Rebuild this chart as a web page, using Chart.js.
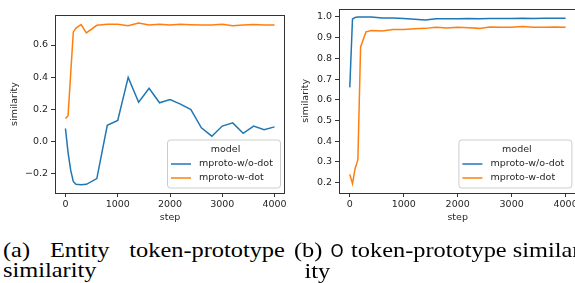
<!DOCTYPE html>
<html>
<head>
<meta charset="utf-8">
<script src="https://cdn.jsdelivr.net/npm/chart.js@4/dist/chart.umd.min.js"></script>
<style>
  html, body { margin: 0; padding: 0; background: #fff; overflow: hidden; width: 575px; height: 283px; }
  canvas { position: absolute; top: 0; }
  #chartA { left: 0; }
  #chartB { left: 285px; }
  .cap { position: absolute; font-family: "Liberation Serif", "Times New Roman", serif; font-size: 21px; line-height: 20px;
         color: #000; transform: scaleX(1.16); transform-origin: 0 0; }
  #capA { left: 3px; top: 240px; width: 243px; text-align: justify; text-align-last: left; }
  #capB { left: 294px; top: 240px; white-space: nowrap; }
  .tt { font-family: "DejaVu Sans", sans-serif; font-size: 18px; display: inline-block; transform: scaleX(0.8); }
</style>
</head>
<body>
<canvas id="chartA" width="290" height="230"></canvas>
<canvas id="chartB" width="300" height="230"></canvas>
<div class="cap" id="capA">(a) Entity token-prototype similarity</div>
<div class="cap" id="capB">(b) <span class="tt">O</span> token-prototype similar-<br><span style="padding-left:9px">ity</span></div>
<script>
// training steps (x) shared by all lines
const steps = [0, 50, 100, 150, 200, 300, 400, 600, 800, 1000, 1200, 1400, 1600, 1800, 2000,
               2200, 2400, 2600, 2800, 3000, 3200, 3400, 3600, 3800, 4000];
const seriesNames = ['mproto-w/o-dot', 'mproto-w-dot'];

// (a) entity token-prototype similarity
const entityWoDot = [0.08, -0.07, -0.18, -0.25, -0.267, -0.27, -0.268, -0.232, 0.10, 0.13, 0.398,
                     0.243, 0.33, 0.24, 0.26, 0.232, 0.198, 0.084, 0.032, 0.095, 0.115, 0.05, 0.095, 0.072, 0.09];
const entityWDot = [0.142, 0.16, 0.42, 0.68, 0.705, 0.727, 0.675, 0.723, 0.73, 0.73, 0.72,
                    0.737, 0.725, 0.73, 0.724, 0.73, 0.727, 0.725, 0.725, 0.73, 0.72, 0.725, 0.728, 0.725, 0.725];

// (b) O token-prototype similarity
const oWoDot = [0.66, 0.99, 0.998, 1.0, 1.0, 1.0, 1.0, 0.995, 0.995, 0.993, 0.989,
                0.986, 0.991, 0.992, 0.992, 0.993, 0.992, 0.993, 0.993, 0.993, 0.994, 0.993, 0.994, 0.994, 0.994];
const oWDot = [0.24, 0.195, 0.27, 0.31, 0.855, 0.928, 0.935, 0.932, 0.94, 0.94, 0.943,
               0.945, 0.95, 0.947, 0.95, 0.948, 0.945, 0.952, 0.951, 0.95, 0.954, 0.951, 0.95, 0.952, 0.951];

const xTicks = [0, 1000, 2000, 3000, 4000];
const yTicksA = [-0.2, 0.0, 0.2, 0.4, 0.6];
const yTicksB = [0.2, 0.3, 0.4, 0.5, 0.6, 0.7, 0.8, 0.9, 1.0];

const colors = ['#1f77b4', '#ff7f0e'];
const FONT = "'DejaVu Sans', sans-serif";
const FSIZE = 9.5;
const TEXT = '#262626';
const AXIS = '#333333';

// box around the plot + matplotlib style legend in lower right
const framePlugin = {
  id: 'frame',
  afterDraw(chart) {
    const { ctx, chartArea: a } = chart;
    ctx.save();
    ctx.strokeStyle = AXIS;
    ctx.lineWidth = 1;
    ctx.strokeRect(Math.round(a.left) + 0.5, Math.round(a.top) + 0.5,
                   Math.round(a.right - a.left) - 1, Math.round(a.bottom - a.top));

    const w = 113, h = 48;
    const x = a.right - 5 - w, y = a.bottom - 5.5 - h;
    ctx.fillStyle = 'rgba(255,255,255,0.8)';
    ctx.strokeStyle = '#cccccc';
    ctx.beginPath();
    ctx.roundRect(x + 0.5, y + 0.5, w, h, 3);
    ctx.fill();
    ctx.stroke();

    ctx.font = FSIZE + 'px ' + FONT;
    ctx.fillStyle = TEXT;
    ctx.textBaseline = 'middle';
    ctx.textAlign = 'center';
    ctx.fillText('model', x + w / 2 + 2, y + 10.5);
    ctx.textAlign = 'left';
    chart.data.datasets.forEach((ds, i) => {
      const ly = y + 24.5 + i * 14;
      ctx.strokeStyle = ds.borderColor;
      ctx.lineWidth = 1.5;
      ctx.beginPath();
      ctx.moveTo(x + 4, ly);
      ctx.lineTo(x + 24, ly);
      ctx.stroke();
      ctx.fillStyle = TEXT;
      ctx.fillText(ds.label, x + 32, ly);
    });
    ctx.restore();
  }
};

function makeChart(id, a, b, yMin, yMax, yTicks, yWidth, padLeftTitle, padTop, padRight) {
  new Chart(document.getElementById(id), {
    type: 'line',
    data: {
      datasets: [a, b].map((vals, i) => ({
        label: seriesNames[i],
        data: steps.map((s, k) => ({ x: s, y: vals[k] })),
        borderColor: colors[i],
        backgroundColor: colors[i],
        borderWidth: 1.5,
        pointRadius: 0,
        tension: 0,
        fill: false
      }))
    },
    options: {
      responsive: false,
      animation: false,
      layout: { padding: { left: 0, top: padTop, right: padRight, bottom: 0 } },
      plugins: { legend: { display: false }, tooltip: { enabled: false } },
      scales: {
        x: {
          type: 'linear',
          min: -200, max: 4200,
          afterBuildTicks: s => { s.ticks = xTicks.map(v => ({ value: v })); },
          afterFit: s => { s.height = 37; },
          grid: { display: true, drawOnChartArea: false, drawTicks: true, tickLength: 4, color: AXIS },
          border: { display: false },
          ticks: { font: { family: FONT, size: FSIZE }, color: TEXT, padding: 2, maxRotation: 0,
                   callback: v => String(v) },
          title: { display: true, text: 'step', font: { family: FONT, size: FSIZE }, color: TEXT,
                   padding: { top: 0, bottom: 7 } }
        },
        y: {
          min: yMin, max: yMax,
          afterBuildTicks: s => { s.ticks = yTicks.map(v => ({ value: v })); },
          afterFit: s => { s.width = yWidth; },
          grid: { display: true, drawOnChartArea: false, drawTicks: true, tickLength: 4, color: AXIS },
          border: { display: false },
          ticks: { font: { family: FONT, size: FSIZE }, color: TEXT, padding: 3,
                   callback: v => v.toFixed(1).replace('-', '\u2212') },
          title: { display: true, text: 'similarity', font: { family: FONT, size: FSIZE }, color: TEXT,
                   padding: { top: padLeftTitle, bottom: 0 } }
        }
      }
    },
    plugins: [framePlugin]
  });
}

makeChart('chartA', entityWoDot, entityWDot, -0.322, 0.787, yTicksA, 55, 9, 15, 5);
makeChart('chartB', oWoDot, oWDot, 0.15, 1.04, yTicksB, 54, 14.5, 8, 8.6);
</script>
</body>
</html>
